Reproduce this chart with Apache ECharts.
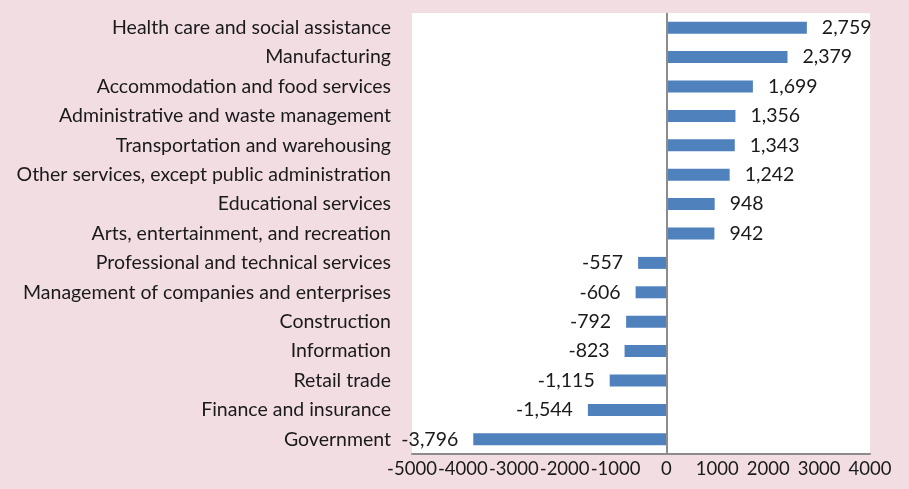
<!DOCTYPE html>
<html><head><meta charset="utf-8">
<script src="https://cdn.jsdelivr.net/npm/echarts@6/dist/echarts.min.js"></script>
<style>html,body{margin:0;padding:0;background:#f2dde3}#c{width:909px;height:489px}</style>
</head><body><div id="c"></div>
<script>
const categories = [
  "Health care and social assistance",
  "Manufacturing",
  "Accommodation and food services",
  "Administrative and waste management",
  "Transportation and warehousing",
  "Other services, except public administration",
  "Educational services",
  "Arts, entertainment, and recreation",
  "Professional and technical services",
  "Management of companies and enterprises",
  "Construction",
  "Information",
  "Retail trade",
  "Finance and insurance",
  "Government"
];
const values = [2759, 2379, 1699, 1356, 1343, 1242, 948, 942, -557, -606, -792, -823, -1115, -1544, -3796];
const xTicks = { min: -5000, max: 4000, interval: 1000 };

const FONT = 'Lato';
const FS = 19.5;
const chart = echarts.init(document.getElementById('c'));
const fmt = v => v.toLocaleString('en-US');
chart.setOption({
  backgroundColor: '#f2dde3',
  animation: false,
  grid: { left: 412, right: 39, top: 13, bottom: 35, show: true, backgroundColor: '#ffffff', borderWidth: 0 },
  xAxis: {
    type: 'value', min: xTicks.min, max: xTicks.max, interval: xTicks.interval,
    axisLine: { show: true, onZero: false, lineStyle: { color: '#8c8c8c', width: 2 } },
    axisTick: { show: false },
    splitLine: { show: false },
    axisLabel: { color: '#1a1a1a', fontFamily: FONT, fontSize: 18.5, margin: 6,
      showMinLabel: true, showMaxLabel: true, hideOverlap: false, formatter: v => String(v) }
  },
  yAxis: {
    type: 'category', data: categories, inverse: true,
    axisLine: { show: false, onZero: false },
    axisTick: { show: false },
    axisLabel: { color: '#1a1a1a', fontFamily: FONT, fontSize: FS, margin: 21 }
  },
  series: [{
    type: 'bar', data: values.map(v => ({
      value: v,
      label: { position: v >= 0 ? 'right' : 'left' }
    })),
    barWidth: 12,
    itemStyle: { color: '#4f81bd' },
    label: { show: true, distance: 15, color: '#1a1a1a', fontFamily: FONT, fontSize: FS, formatter: p => fmt(p.value) },
    markLine: {
      silent: true, symbol: 'none', label: { show: false },
      lineStyle: { color: '#8c8c8c', width: 2, type: 'solid' },
      data: [{ xAxis: 0 }]
    }
  }]
});
</script></body></html>
